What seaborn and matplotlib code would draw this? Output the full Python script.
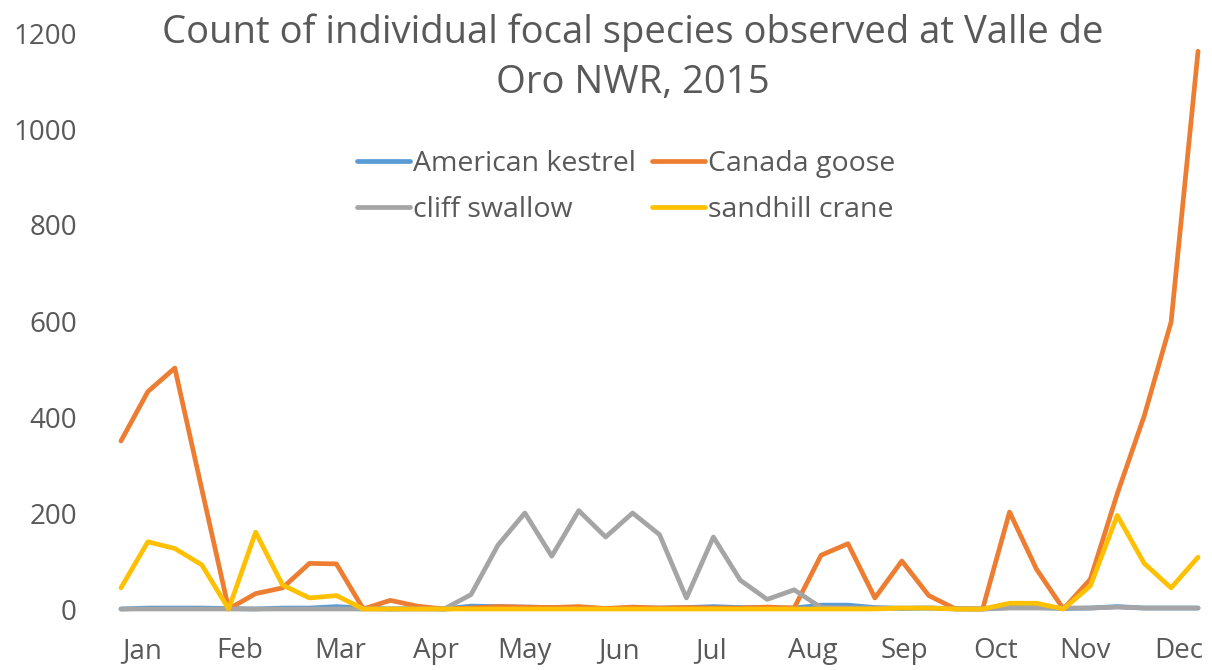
import numpy as np
import pandas as pd
import matplotlib
matplotlib.use("Agg")
import matplotlib.pyplot as plt
import seaborn as sns

# Weekly survey counts, 2015 (41 survey dates)
kestrel = [0, 2, 2, 2, 1, 0, 2, 2, 5, 2, 0, 1, 0, 6, 5, 4, 3, 2, 1, 2, 2,
           3, 5, 3, 2, 2, 8, 8, 3, 1, 2, 1, 0, 3, 3, 1, 2, 5, 2, 2, 2]
goose = [350, 453, 502, 250, 0, 32, 44, 95, 94, 0, 18, 6, 0, 2, 5, 4, 3, 5, 1, 4, 2,
         3, 2, 2, 4, 2, 112, 136, 23, 100, 28, 0, 0, 202, 83, 0, 62, 240, 402, 598, 1162]
swallow = [0, 0, 0, 0, 0, 0, 0, 0, 0, 0, 0, 0, 0, 30, 133, 200, 110, 205, 150, 200, 155,
           23, 150, 60, 20, 40, 3, 2, 2, 2, 2, 0, 0, 2, 2, 2, 2, 4, 2, 2, 2]
crane = [44, 140, 126, 92, 0, 160, 50, 23, 28, 0, 0, 0, 0, 0, 0, 0, 0, 0, 0, 0, 0,
         0, 0, 0, 0, 0, 0, 0, 0, 2, 2, 0, 0, 12, 12, 0, 48, 195, 95, 44, 108]

species = ["American kestrel", "Canada goose", "cliff swallow", "sandhill crane"]
colors = ["#5B9BD5", "#ED7D31", "#A5A5A5", "#FFC000"]
months = ["Jan", "Feb", "Mar", "Apr", "May", "Jun",
          "Jul", "Aug", "Sep", "Oct", "Nov", "Dec"]
month_pos = [0.78, 4.42, 8.13, 11.7, 15.0, 18.5, 21.9, 25.7, 29.1, 32.5, 35.8, 39.3]
title = "Count of individual focal species observed at Valle de\nOro NWR, 2015"

week = np.arange(len(goose))
df = pd.concat([
    pd.DataFrame({"week": week, "count": vals, "species": name})
    for name, vals in zip(species, [kestrel, goose, swallow, crane])
])

sns.set_style("white")
plt.rcParams["font.family"] = ["Open Sans", "DejaVu Sans"]
text_color = "#595959"

fig = plt.figure(figsize=(12.12, 6.70), dpi=100)
ax = fig.add_axes([107.5 / 1212, 61 / 670, 1104 / 1212, 576 / 670])

sns.lineplot(data=df, x="week", y="count", hue="species", hue_order=species,
             palette=dict(zip(species, colors)), linewidth=3.4, ax=ax,
             legend=True)
for ln in ax.lines:
    ln.set_solid_joinstyle("round")
    ln.set_clip_on(False)

ax.set_xlim(-0.5, 40.5)
ax.set_ylim(0, 1200)
ax.set_yticks(range(0, 1201, 200))
ax.set_xticks(month_pos)
ax.set_xticklabels(months)
ax.tick_params(axis="both", length=0, labelsize=20, labelcolor=text_color)
ax.tick_params(axis="y", pad=22)
ax.tick_params(axis="x", pad=20)
ax.set_xlabel("")
ax.set_ylabel("")
for s in ax.spines.values():
    s.set_visible(False)

# legend filled row by row: kestrel, goose / swallow, crane
handles, labels = ax.get_legend_handles_labels()
lookup = dict(zip(labels, handles))
order = [species[0], species[2], species[1], species[3]]
leg = ax.legend([lookup[k] for k in order], order, ncol=2, frameon=False,
                loc="center", bbox_to_anchor=(0.47, 0.733), fontsize=20.5,
                handlelength=1.85, handletextpad=0.12, columnspacing=0.55,
                labelspacing=0.65, labelcolor=text_color)

fig.text(0.522, 0.98, title, ha="center", va="top", fontsize=27.5,
         color=text_color, linespacing=1.4)

fig.savefig("out.png", dpi=100, facecolor="white")
